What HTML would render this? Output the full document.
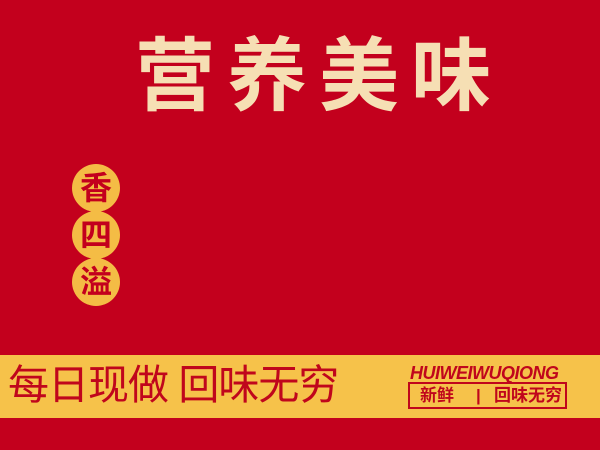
<!DOCTYPE html>
<html><head><meta charset="utf-8"><style>
body{margin:0;width:600px;height:450px;background:#c3001d;position:relative;overflow:hidden;font-family:"Liberation Sans","Noto Sans CJK SC",sans-serif}
div{position:absolute}
.title{left:135px;top:32px;font-size:80px;color:#f6dfb4;font-weight:bold;letter-spacing:12px;line-height:90px;white-space:nowrap;font-family:"Liberation Sans","WenQuanYi Zen Hei","Noto Sans CJK SC",sans-serif}
.c{width:48px;height:48px;border-radius:50%;background:#f4bc45;color:#c3001d;font-size:32px;font-weight:bold;line-height:48px;text-align:center;left:72px}
.band{left:0;top:355px;width:600px;height:63px;background:#f6c24a}
.slogan{left:8px;top:361px;font-size:41px;color:#c0061c;line-height:48px;white-space:nowrap;letter-spacing:-1px}
.en{left:410px;top:363px;font-size:18px;font-style:italic;font-weight:bold;color:#c0061c;letter-spacing:-0.5px}
.box{left:408px;top:382px;width:155px;height:23px;border:2px solid #c0061c;color:#c0061c;font-size:17px;font-weight:bold;line-height:23px;white-space:nowrap}
</style></head><body>
<div class="title">营养美味</div>
<div class="c" style="top:164px">香</div>
<div class="c" style="top:211px">四</div>
<div class="c" style="top:258px">溢</div>
<div class="band"></div>
<div class="slogan">每日现做 回味无穷</div>
<div class="en">HUIWEIWUQIONG</div>
<div class="box"><span style="position:absolute;left:10px">新鲜</span><span style="position:absolute;left:66px">|</span><span style="position:absolute;left:84px">回味无穷</span></div>
</body></html>
